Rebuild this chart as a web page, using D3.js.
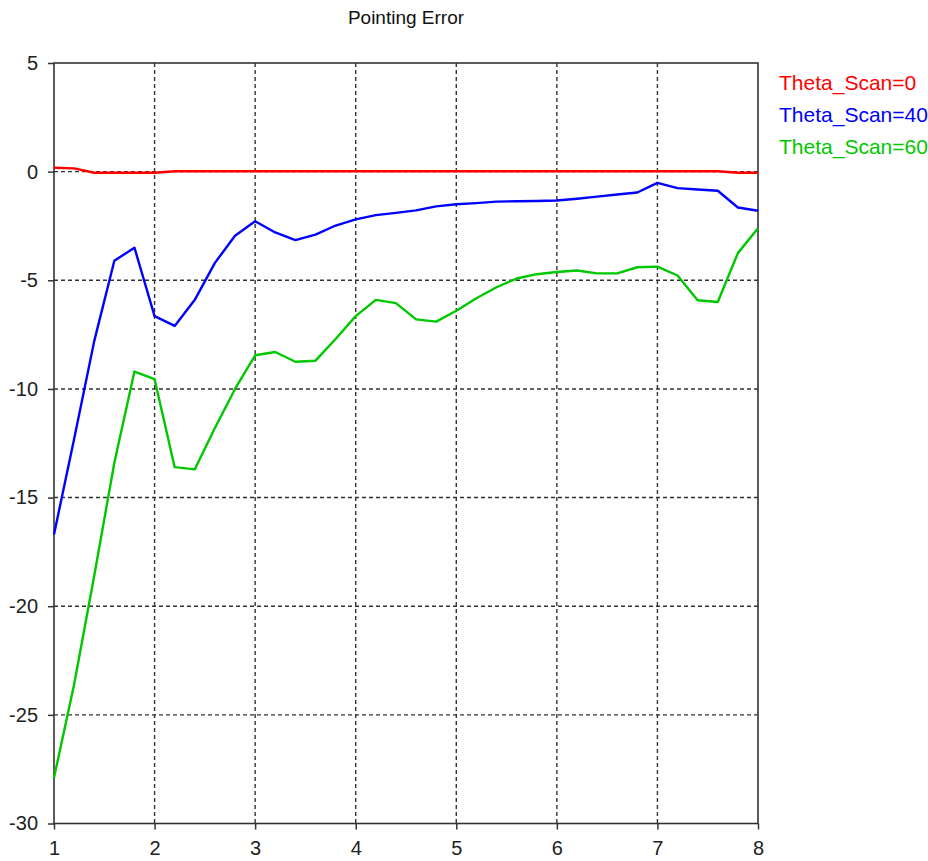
<!DOCTYPE html>
<html>
<head>
<meta charset="utf-8">
<script src="https://cdn.jsdelivr.net/npm/d3@7/dist/d3.min.js"></script>
<style>
  html, body { margin: 0; padding: 0; background: #fff; }
  svg { display: block; font-family: "Liberation Sans", Arial, sans-serif; }
</style>
</head>
<body>
<svg id="chart" width="928" height="861"></svg>
<script>
// Scan frequency samples (x axis)
const xValues = [1.0, 1.2, 1.4, 1.6, 1.8, 2.0, 2.2, 2.4, 2.6, 2.8,
                 3.0, 3.2, 3.4, 3.6, 3.8, 4.0, 4.2, 4.4, 4.6, 4.8,
                 5.0, 5.2, 5.4, 5.6, 5.8, 6.0, 6.2, 6.4, 6.6, 6.8,
                 7.0, 7.2, 7.4, 7.6, 7.8, 8.0];

// Pointing error per scan angle
const scan0 = [0.18, 0.15, -0.05, -0.05, -0.05, -0.05, 0.02, 0.02, 0.02, 0.02,
               0.02, 0.02, 0.02, 0.02, 0.02, 0.02, 0.02, 0.02, 0.02, 0.02,
               0.02, 0.02, 0.02, 0.02, 0.02, 0.02, 0.02, 0.02, 0.02, 0.02,
               0.02, 0.02, 0.02, 0.02, -0.05, -0.05];
const scan40 = [-16.7, -12.3, -7.8, -4.1, -3.5, -6.65, -7.1, -5.9, -4.2, -2.95,
                -2.28, -2.8, -3.15, -2.9, -2.48, -2.2, -2.0, -1.9, -1.78, -1.6,
                -1.5, -1.45, -1.38, -1.36, -1.35, -1.33, -1.25, -1.15, -1.05, -0.96,
                -0.52, -0.76, -0.82, -0.88, -1.65, -1.8];
const scan60 = [-27.9, -23.6, -18.6, -13.4, -9.2, -9.55, -13.6, -13.7, -11.8, -10.0,
                -8.45, -8.3, -8.75, -8.7, -7.7, -6.65, -5.9, -6.05, -6.8, -6.9,
                -6.4, -5.83, -5.32, -4.92, -4.72, -4.62, -4.55, -4.68, -4.68, -4.4,
                -4.37, -4.78, -5.92, -6.0, -3.75, -2.6];

const seriesNames = ["Theta_Scan=0", "Theta_Scan=40", "Theta_Scan=60"];
const seriesColors = ["#ff0000", "#0000ff", "#00c800"];
const seriesValues = [scan0, scan40, scan60];

const xTicks = [1, 2, 3, 4, 5, 6, 7, 8];
const yTicks = [5, 0, -5, -10, -15, -20, -25, -30];
const subtitle = "Pointing Error";

const svg = d3.select("#chart");
const plot = { left: 54, right: 758, top: 63, bottom: 823.5 };

const x = d3.scaleLinear().domain([1, 8]).range([plot.left, plot.right]);
const y = d3.scaleLinear().domain([5, -30]).range([plot.top, plot.bottom]);

// Subtitle
svg.append("text")
  .attr("x", (plot.left + plot.right) / 2)
  .attr("y", 24)
  .attr("text-anchor", "middle")
  .attr("font-size", 19)
  .attr("fill", "#111")
  .text(subtitle);

// Dashed grid
const grid = svg.append("g").attr("stroke", "#333").attr("stroke-width", 1.4)
  .attr("stroke-dasharray", "4,3");
grid.selectAll("line.v").data(xTicks.filter(t => t > 1 && t < 8)).join("line")
  .attr("class", "v")
  .attr("x1", d => x(d)).attr("x2", d => x(d))
  .attr("y1", plot.top).attr("y2", plot.bottom);
grid.selectAll("line.h").data(yTicks.filter(t => t < 5 && t > -30)).join("line")
  .attr("class", "h")
  .attr("x1", plot.left).attr("x2", plot.right)
  .attr("y1", d => y(d)).attr("y2", d => y(d));

// Axes (plain hyphen for negative labels)
const fmt = d => String(d);
const xAxis = d3.axisBottom(x).tickValues(xTicks).tickSize(6).tickPadding(7)
  .tickFormat(fmt);
const yAxis = d3.axisLeft(y).tickValues(yTicks).tickSize(6).tickPadding(10)
  .tickFormat(fmt);

const gx = svg.append("g").attr("transform", `translate(0,${plot.bottom})`).call(xAxis);
const gy = svg.append("g").attr("transform", `translate(${plot.left},0)`).call(yAxis);
[gx, gy].forEach(g => {
  g.select(".domain").remove();
  g.selectAll(".tick line").attr("stroke", "#333").attr("stroke-width", 1.5);
  g.selectAll(".tick text").attr("font-size", 20).attr("fill", "#222")
    .attr("font-family", "'Liberation Sans', Arial, sans-serif");
});
gx.selectAll(".tick text").attr("dy", "0.9em");

// Plot frame
svg.append("rect")
  .attr("x", plot.left).attr("y", plot.top)
  .attr("width", plot.right - plot.left).attr("height", plot.bottom - plot.top)
  .attr("fill", "none").attr("stroke", "#333").attr("stroke-width", 1.6);

// Series lines
const line = d3.line().x((d, i) => x(xValues[i])).y(d => y(d));
svg.append("g").selectAll("path").data(seriesValues).join("path")
  .attr("d", d => line(d))
  .attr("fill", "none")
  .attr("stroke", (d, i) => seriesColors[i])
  .attr("stroke-width", 2.4)
  .attr("stroke-linejoin", "round");

// Legend
svg.append("g").selectAll("text").data(seriesNames).join("text")
  .attr("x", 779)
  .attr("y", (d, i) => 90 + i * 32)
  .attr("font-size", 21)
  .attr("fill", (d, i) => seriesColors[i])
  .text(d => d);
</script>
</body>
</html>
